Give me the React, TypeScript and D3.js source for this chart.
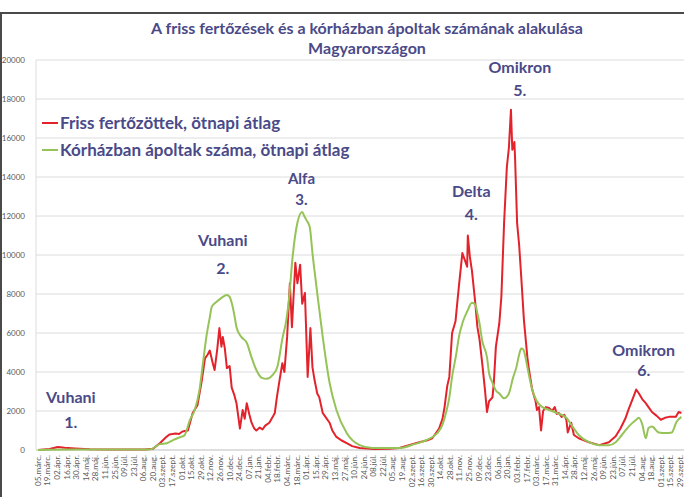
import React from "react";
import * as d3 from "d3";

const W = 684;
const H = 497;

const xTickLabels = [
  "05.márc.", "19.márc.", "02.ápr.", "16.ápr.", "30.ápr.", "14.máj.", "28.máj.", "11.jún.", "25.jún.", "09.júl.", "23.júl.", "06.aug.", "20.aug.", "03.szept.", "17.szept.", "01.okt.", "15.okt.", "29.okt.", "12.nov.", "26.nov.", "10.dec.", "24.dec.",
  "07.jan.", "21.jan.", "04.febr.", "18.febr.", "04.márc.", "18.márc.", "01.ápr.", "15.ápr.", "29.ápr.", "13.máj.", "27.máj.", "10.jún.", "24.jún.", "08.júl.", "22.júl.", "05.aug.", "19.aug.", "02.szept.", "16.szept.", "30.szept.", "14.okt.", "28.okt.", "11.nov.", "25.nov.", "09.dec.", "23.dec.",
  "06.jan.", "20.jan.", "03.febr.", "17.febr.", "03.márc.", "17.márc.", "31.márc.", "14.ápr.", "28.ápr.", "12.máj.", "26.máj.", "09.jún.", "23.jún.", "07.júl.", "21.júl.", "04.aug.", "18.aug.", "01.szept.", "15.szept.", "29.szept."
];
const firstTickDate = "2020-03-05";
const tickStepDays = 14;
const yTicks = [0, 2000, 4000, 6000, 8000, 10000, 12000, 14000, 16000, 18000, 20000];

const redSeries: [string, number][] = [
  ["2020-03-05", 0], ["2020-03-22", 50], ["2020-04-03", 150], ["2020-04-13", 110], ["2020-04-28", 80],
  ["2020-05-20", 40], ["2020-06-18", 20], ["2020-07-17", 20], ["2020-08-08", 30], ["2020-08-20", 60],
  ["2020-08-30", 350], ["2020-09-08", 650], ["2020-09-13", 800], ["2020-09-22", 850], ["2020-09-27", 820], ["2020-10-02", 950], ["2020-10-10", 1000],
  ["2020-10-17", 1900], ["2020-10-24", 2300], ["2020-10-30", 3500], ["2020-11-04", 4700], ["2020-11-08", 4900],
  ["2020-11-11", 5100], ["2020-11-15", 4500], ["2020-11-18", 4100], ["2020-11-22", 5200], ["2020-11-25", 6250],
  ["2020-11-28", 5300], ["2020-11-30", 5800], ["2020-12-03", 5200], ["2020-12-06", 4200], ["2020-12-10", 4300],
  ["2020-12-13", 3200], ["2020-12-17", 2800], ["2020-12-20", 2400], ["2020-12-25", 1100], ["2020-12-29", 2050],
  ["2021-01-01", 1600], ["2021-01-04", 2400], ["2021-01-08", 1800], ["2021-01-11", 1400], ["2021-01-15", 1100],
  ["2021-01-18", 1000], ["2021-01-23", 1150], ["2021-01-27", 1050], ["2021-01-31", 1250], ["2021-02-06", 1400],
  ["2021-02-11", 1700], ["2021-02-14", 1900], ["2021-02-17", 2700], ["2021-02-21", 3600], ["2021-02-25", 4450],
  ["2021-02-28", 4000], ["2021-03-04", 5800], ["2021-03-08", 8550], ["2021-03-11", 6300], ["2021-03-16", 9600],
  ["2021-03-19", 8550], ["2021-03-23", 9500], ["2021-03-26", 7500], ["2021-03-30", 8050], ["2021-04-03", 3750],
  ["2021-04-07", 6250], ["2021-04-10", 4250], ["2021-04-13", 3600], ["2021-04-17", 2900], ["2021-04-20", 2700],
  ["2021-04-25", 1900], ["2021-04-29", 1700], ["2021-05-05", 1400], ["2021-05-09", 1000], ["2021-05-15", 670],
  ["2021-05-22", 500], ["2021-05-30", 350], ["2021-06-07", 200], ["2021-06-18", 100], ["2021-07-09", 50],
  ["2021-07-31", 60], ["2021-08-15", 100], ["2021-08-29", 250], ["2021-09-13", 400], ["2021-09-25", 500],
  ["2021-10-02", 600], ["2021-10-08", 900], ["2021-10-12", 1100], ["2021-10-17", 1600], ["2021-10-20", 2200],
  ["2021-10-24", 3300], ["2021-10-27", 3750], ["2021-10-31", 6000], ["2021-11-05", 6600], ["2021-11-08", 7700],
  ["2021-11-10", 8400], ["2021-11-15", 10100], ["2021-11-18", 9800], ["2021-11-22", 9400], ["2021-11-23", 11000],
  ["2021-11-26", 9900], ["2021-11-29", 9200], ["2021-12-04", 7500], ["2021-12-07", 6300], ["2021-12-10", 5700],
  ["2021-12-14", 4450], ["2021-12-18", 3100], ["2021-12-21", 1950], ["2021-12-24", 2500], ["2021-12-29", 2700],
  ["2021-12-31", 3450], ["2022-01-03", 5300], ["2022-01-08", 6500], ["2022-01-11", 7850], ["2022-01-15", 11650],
  ["2022-01-19", 14500], ["2022-01-22", 15500], ["2022-01-25", 17450], ["2022-01-27", 15400], ["2022-01-30", 15800],
  ["2022-01-31", 15000], ["2022-02-03", 11650], ["2022-02-06", 10500], ["2022-02-09", 8900], ["2022-02-13", 6650],
  ["2022-02-18", 4750], ["2022-02-20", 4200], ["2022-02-25", 3100], ["2022-03-02", 2500], ["2022-03-04", 2050],
  ["2022-03-07", 2200], ["2022-03-10", 1000], ["2022-03-13", 2000], ["2022-03-17", 2200], ["2022-03-22", 2150],
  ["2022-03-26", 2000], ["2022-03-30", 2200], ["2022-04-02", 1850], ["2022-04-05", 1900], ["2022-04-09", 1700],
  ["2022-04-13", 1800], ["2022-04-16", 1550], ["2022-04-18", 900], ["2022-04-23", 1400], ["2022-04-27", 770],
  ["2022-05-04", 600], ["2022-05-19", 400], ["2022-06-03", 250], ["2022-06-17", 400], ["2022-06-27", 700],
  ["2022-07-04", 1100], ["2022-07-11", 1600], ["2022-07-16", 2100], ["2022-07-21", 2550], ["2022-07-27", 3100],
  ["2022-07-31", 2900], ["2022-08-05", 2600], ["2022-08-10", 2400], ["2022-08-14", 2200], ["2022-08-19", 1950],
  ["2022-08-26", 1750], ["2022-09-01", 1550], ["2022-09-07", 1650], ["2022-09-13", 1700], ["2022-09-23", 1700],
  ["2022-09-27", 1950], ["2022-10-01", 1900]
];

const greenSeries: [string, number][] = [
  ["2020-03-05", 0], ["2020-05-01", 20], ["2020-08-15", 20], ["2020-08-30", 300], ["2020-09-09", 350],
  ["2020-09-21", 550], ["2020-09-28", 650], ["2020-10-05", 750], ["2020-10-13", 1550], ["2020-10-20", 2050],
  ["2020-10-27", 3100], ["2020-11-01", 4450], ["2020-11-06", 5800], ["2020-11-11", 6800], ["2020-11-14", 7350],
  ["2020-11-21", 7600], ["2020-11-28", 7800], ["2020-12-06", 7950], ["2020-12-10", 7850], ["2020-12-13", 7550],
  ["2020-12-17", 6900], ["2020-12-20", 6300], ["2020-12-27", 5800], ["2021-01-04", 5500], ["2021-01-11", 4750],
  ["2021-01-18", 4100], ["2021-01-26", 3700], ["2021-02-02", 3650], ["2021-02-11", 3850], ["2021-02-18", 4300],
  ["2021-02-25", 5700], ["2021-03-03", 6700], ["2021-03-07", 7850], ["2021-03-12", 9900], ["2021-03-19", 11650],
  ["2021-03-26", 12200], ["2021-03-29", 12000], ["2021-04-01", 11800], ["2021-04-06", 11450], ["2021-04-10", 10100],
  ["2021-04-17", 8050], ["2021-04-25", 5800], ["2021-05-05", 3450], ["2021-05-15", 2050], ["2021-05-30", 870],
  ["2021-06-18", 250], ["2021-07-07", 100], ["2021-08-15", 100], ["2021-09-06", 300], ["2021-09-23", 500],
  ["2021-10-09", 850], ["2021-10-17", 1300], ["2021-10-22", 1900], ["2021-10-27", 2700], ["2021-10-31", 3750],
  ["2021-11-06", 4900], ["2021-11-10", 5800], ["2021-11-16", 6600], ["2021-11-22", 7100], ["2021-11-29", 7550],
  ["2021-12-04", 7450], ["2021-12-07", 7000], ["2021-12-10", 6500], ["2021-12-14", 5600], ["2021-12-21", 4750],
  ["2021-12-24", 3950], ["2021-12-29", 3450], ["2022-01-03", 3050], ["2022-01-08", 2900], ["2022-01-15", 2650],
  ["2022-01-22", 2900], ["2022-01-28", 3700], ["2022-02-02", 4250], ["2022-02-06", 4900], ["2022-02-09", 5200],
  ["2022-02-12", 5150], ["2022-02-15", 4800], ["2022-02-18", 4250], ["2022-02-24", 3250], ["2022-03-03", 2550],
  ["2022-03-12", 2200], ["2022-03-22", 2050], ["2022-04-02", 1900], ["2022-04-16", 1650], ["2022-04-25", 1200],
  ["2022-05-04", 770], ["2022-05-19", 400], ["2022-06-03", 250], ["2022-06-17", 250], ["2022-06-27", 400],
  ["2022-07-06", 770], ["2022-07-16", 1200], ["2022-07-27", 1550], ["2022-07-31", 1650], ["2022-08-05", 1300],
  ["2022-08-10", 600], ["2022-08-14", 1130], ["2022-08-19", 1200], ["2022-08-29", 900], ["2022-09-08", 870],
  ["2022-09-17", 900], ["2022-09-24", 1450], ["2022-10-01", 1700]
];

const waveNames = ["Vuhani", "Vuhani", "Alfa", "Delta", "Omikron", "Omikron"];
const waveNumbers = ["1.", "2.", "3.", "4.", "5.", "6."];
const waveDates = ["2020-04-22", "2020-11-30", "2021-03-25", "2021-11-28", "2022-02-07", "2022-08-07"];
const waveNameValues = [2720, 10770, 13900, 13280, 19640, 5130];
const waveNumberValues = [1440, 9330, 12850, 12100, 18460, 4100];

const titleLines = ["A friss fertőzések és a kórházban ápoltak számának alakulása", "Magyarországon"];
const seriesNames = ["Friss fertőzöttek, ötnapi átlag", "Kórházban ápoltak száma, ötnapi átlag"];

const RED = "#e3222b";
const GREEN = "#96c357";
const TEXT = "#4a4a88";
const FONT = "Lato, 'Open Sans', sans-serif";

const parse = d3.timeParse("%Y-%m-%d");

export default function App() {
  const t0 = parse(firstTickDate) as Date;
  const tickDates = xTickLabels.map((_, i) => d3.timeDay.offset(t0, i * tickStepDays));
  const tEnd = tickDates[tickDates.length - 1];

  const x = d3.scaleTime().domain([t0, tEnd]).range([38, 680]);
  const y = d3.scaleLinear().domain([0, 20000]).range([450, 60]);

  const redLine = d3
    .line<[string, number]>()
    .x((d) => x(parse(d[0]) as Date))
    .y((d) => y(d[1]))
    .curve(d3.curveLinear);
  const greenLine = d3
    .line<[string, number]>()
    .x((d) => x(parse(d[0]) as Date))
    .y((d) => y(d[1]))
    .curve(d3.curveMonotoneX);

  const plotLeft = 36;
  const plotRight = W;

  return (
    <svg
      width={W}
      height={H}
      viewBox={`0 0 ${W} ${H}`}
      style={{ position: "absolute", left: 0, top: 0, display: "block", background: "#fff" }}
    >
      <rect x={1} y={13} width={W + 10} height={H + 10} fill="#fff" stroke="#4a4a4a" strokeWidth={2} />

      {titleLines.map((t, i) => (
        <text
          key={i}
          x={367}
          y={34 + i * 20}
          textAnchor="middle"
          fontFamily={FONT}
          fontWeight="bold"
          fontSize={16}
          fill={TEXT}
        >
          {t}
        </text>
      ))}

      {yTicks.map((v) => (
        <line key={v} x1={plotLeft} x2={plotRight} y1={y(v)} y2={y(v)} stroke={v === 0 ? "#bdbdbd" : "#dcdcdc"} strokeWidth={1} />
      ))}
      <line x1={plotLeft} x2={plotLeft} y1={y(20000)} y2={y(0)} stroke="#dcdcdc" strokeWidth={1} />

      {yTicks.map((v) => (
        <text key={v} x={25} y={y(v)} dy="0.35em" textAnchor="end" fontFamily={FONT} fontSize={8} fill="#5a5a5a">
          {v}
        </text>
      ))}

      {xTickLabels.map((lab, i) => (
        <text
          key={i}
          transform={`translate(${x(tickDates[i])},${455}) rotate(-90)`}
          dy="0.35em"
          textAnchor="end"
          fontFamily={FONT}
          fontSize={8.2}
          fill="#5a5a5a"
        >
          {lab}
        </text>
      ))}

      <path d={redLine(redSeries) || ""} fill="none" stroke={RED} strokeWidth={2} strokeLinejoin="round" />
      <path d={greenLine(greenSeries) || ""} fill="none" stroke={GREEN} strokeWidth={2} strokeLinejoin="round" />

      {seriesNames.map((n, i) => (
        <g key={i}>
          <line x1={42} x2={58} y1={123 + i * 27} y2={123 + i * 27} stroke={i === 0 ? RED : GREEN} strokeWidth={2} />
          <text x={60} y={123 + i * 27} dy="0.35em" fontFamily={FONT} fontWeight="bold" fontSize={17} fill={TEXT}>
            {n}
          </text>
        </g>
      ))}

      {waveNames.map((n, i) => (
        <g key={i}>
          <text
            x={x(parse(waveDates[i]) as Date)}
            y={y(waveNameValues[i])}
            dy="0.35em"
            textAnchor="middle"
            fontFamily={FONT}
            fontWeight="bold"
            fontSize={i === 2 ? 15 : 16}
            fill={TEXT}
          >
            {n}
          </text>
          <text
            x={x(parse(waveDates[i]) as Date)}
            y={y(waveNumberValues[i])}
            dy="0.35em"
            textAnchor="middle"
            fontFamily={FONT}
            fontWeight="bold"
            fontSize={i === 2 ? 15 : 16}
            fill={TEXT}
          >
            {waveNumbers[i]}
          </text>
        </g>
      ))}
    </svg>
  );
}
